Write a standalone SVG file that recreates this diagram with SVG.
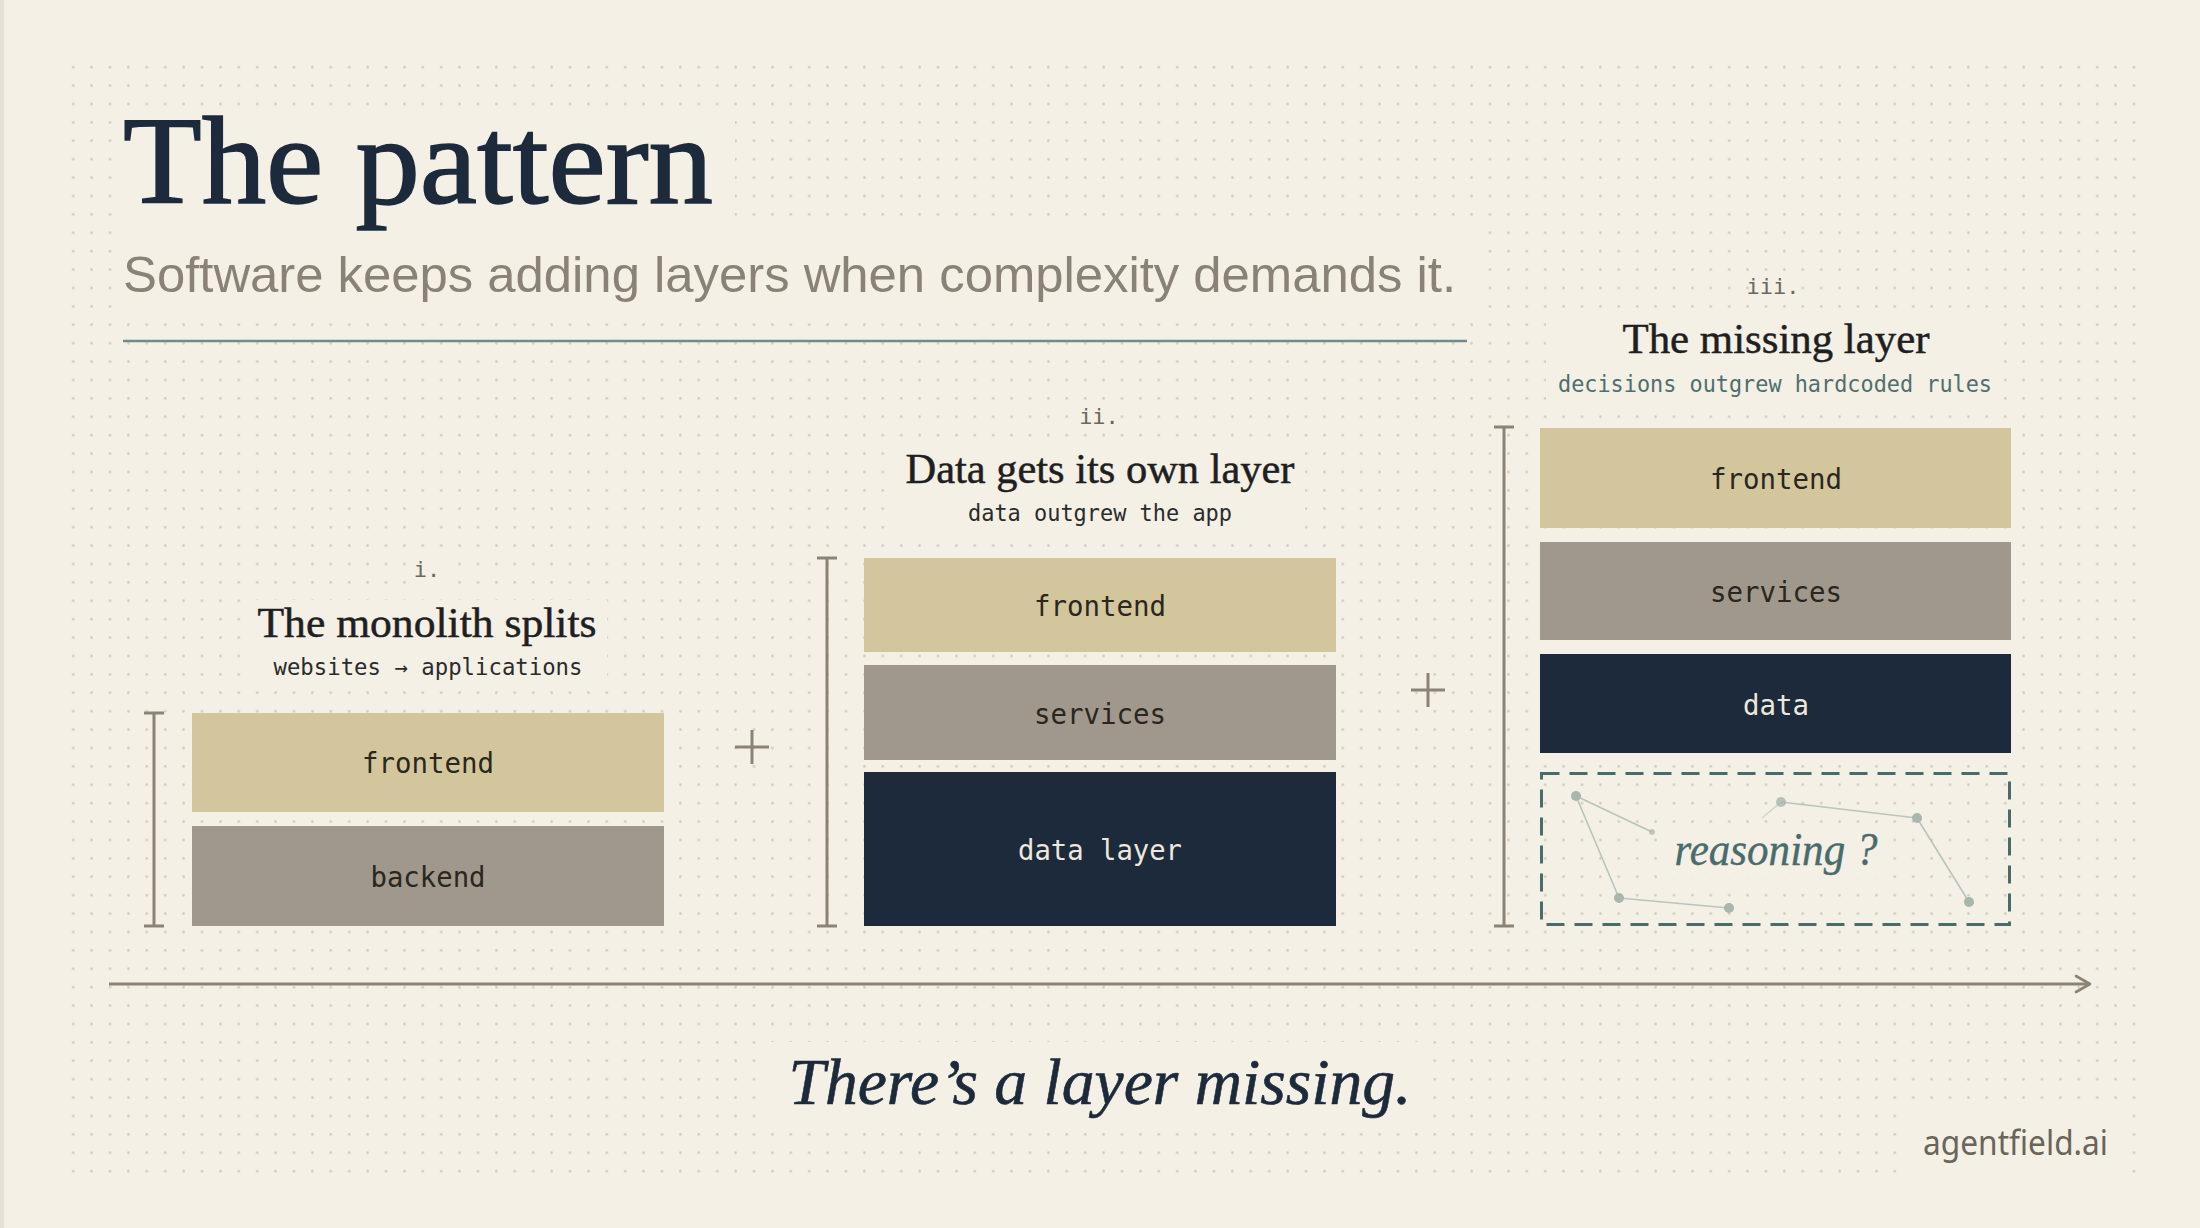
<svg xmlns="http://www.w3.org/2000/svg" width="2200" height="1228" viewBox="0 0 2200 1228">
  <defs>
    <pattern id="dots" x="64" y="58" width="18.4" height="18.4" patternUnits="userSpaceOnUse">
      <circle cx="9.2" cy="9.2" r="1.35" fill="#d3ccbe"/>
    </pattern>
    <marker id="chev" viewBox="0 0 20 20" refX="17" refY="10" markerWidth="20" markerHeight="20" markerUnits="userSpaceOnUse" orient="auto">
      <path d="M3,2 L17,10 L3,18" fill="none" stroke="#8c8376" stroke-width="2.6" stroke-linecap="round" stroke-linejoin="round"/>
    </marker>
    <style>
      .bg { fill: #f4f0e6; }
      .mask { fill: #f4f0e6; }
      .serif { font-family: "Liberation Serif", "DejaVu Serif", serif; }
      .mono { font-family: "DejaVu Sans Mono", "Liberation Mono", monospace; }
      .sans { font-family: "Liberation Sans", "Noto Sans", sans-serif; }
      .num { font-size: 22px; fill: #6e675e; text-anchor: middle; }
      .stitle { font-size: 42px; fill: #1f1f22; text-anchor: middle; stroke: #1f1f22; stroke-width: 0.5; }
      .slabel { font-size: 23px; fill: #2b2b2b; text-anchor: middle; }
      .fe { fill: #d3c69c; }
      .sv { fill: #a0988c; }
      .dt { fill: #1d2a3b; }
      .lbl { font-size: 29px; fill: #2a2620; text-anchor: middle; }
      .lbl-light { font-size: 29px; fill: #ece8de; text-anchor: middle; }
      .brk { fill: none; stroke: #8c8376; stroke-width: 3; stroke-linecap: butt; }
      .plus { fill: none; stroke: #8c8376; stroke-width: 3; }
      .cdot { fill: #a8b6ae; }
      .cline { stroke: #b9c4bd; stroke-width: 1.6; fill: none; }
    </style>
  </defs>

  <!-- background -->
  <rect class="bg" x="0" y="0" width="2200" height="1228"/>
  <rect x="0" y="0" width="4" height="1228" fill="#e6e1d6"/>
  <rect x="64" y="58" width="2072" height="1123" fill="url(#dots)"/>

  <!-- masks behind text -->
  <rect class="mask" x="118" y="110" width="617" height="118"/>
  <rect class="mask" x="118" y="228" width="1355" height="84"/>
  <rect class="mask" x="410" y="558" width="34" height="26"/>
  <rect class="mask" x="248" y="600" width="359" height="84"/>
  <rect class="mask" x="1083" y="405" width="34" height="25"/>
  <rect class="mask" x="895" y="446" width="410" height="84"/>
  <rect class="mask" x="1752" y="275" width="43" height="25"/>
  <rect class="mask" x="1546" y="316" width="458" height="84"/>
  <rect class="mask" x="1668" y="828" width="218" height="50"/>
  <rect class="mask" x="770" y="1042" width="655" height="84"/>
  <rect class="mask" x="1905" y="1105" width="217" height="73"/>

  <!-- header -->
  <g id="header">
    <text class="serif" x="123" y="203" font-size="124" fill="#1c2a3c" stroke="#1c2a3c" stroke-width="1.6" textLength="590" lengthAdjust="spacingAndGlyphs">The pattern</text>
    <text class="sans" x="123" y="292" font-size="50" fill="#8a8276" textLength="1333" lengthAdjust="spacingAndGlyphs">Software keeps adding layers when complexity demands it.</text>
    <line x1="123" y1="341" x2="1467" y2="341" stroke="#6f8b8b" stroke-width="2.5"/>
  </g>

  <!-- column i -->
  <g id="col-i">
    <text class="mono num" x="427" y="577">i.</text>
    <text class="serif stitle" x="427" y="637" textLength="339" lengthAdjust="spacingAndGlyphs">The monolith splits</text>
    <text class="mono slabel" x="428" y="675" textLength="309" lengthAdjust="spacingAndGlyphs">websites → applications</text>
    <path class="brk" d="M144,713 H164 M154,713 V926 M144,926 H164"/>
  </g>
  <g id="i-frontend">
    <rect class="fe" x="192" y="713" width="472" height="99"/>
    <text class="mono lbl" x="428" y="773" textLength="132" lengthAdjust="spacingAndGlyphs">frontend</text>
  </g>
  <g id="i-backend">
    <rect class="sv" x="192" y="826" width="472" height="100"/>
    <text class="mono lbl" x="428" y="887" textLength="115" lengthAdjust="spacingAndGlyphs">backend</text>
  </g>

  <!-- column ii -->
  <g id="col-ii">
    <text class="mono num" x="1099" y="424">ii.</text>
    <text class="serif stitle" x="1100" y="483" textLength="389" lengthAdjust="spacingAndGlyphs">Data gets its own layer</text>
    <text class="mono slabel" x="1100" y="521" textLength="264" lengthAdjust="spacingAndGlyphs">data outgrew the app</text>
    <path class="brk" d="M817,558 H837 M827,558 V926 M817,926 H837"/>
  </g>
  <g id="ii-frontend">
    <rect class="fe" x="864" y="558" width="472" height="94"/>
    <text class="mono lbl" x="1100" y="616" textLength="132" lengthAdjust="spacingAndGlyphs">frontend</text>
  </g>
  <g id="ii-services">
    <rect class="sv" x="864" y="665" width="472" height="95"/>
    <text class="mono lbl" x="1100" y="724" textLength="132" lengthAdjust="spacingAndGlyphs">services</text>
  </g>
  <g id="ii-data">
    <rect class="dt" x="864" y="772" width="472" height="154"/>
    <text class="mono lbl-light" x="1100" y="860" textLength="164" lengthAdjust="spacingAndGlyphs">data layer</text>
  </g>

  <!-- column iii -->
  <g id="col-iii">
    <text class="mono num" x="1773" y="294">iii.</text>
    <text class="serif stitle" x="1776" y="353" textLength="307" lengthAdjust="spacingAndGlyphs">The missing layer</text>
    <text class="mono slabel" x="1775" y="392" style="fill:#4f6e6e" textLength="434" lengthAdjust="spacingAndGlyphs">decisions outgrew hardcoded rules</text>
    <path class="brk" d="M1494,427 H1514 M1504,427 V926 M1494,926 H1514"/>
  </g>
  <g id="iii-frontend">
    <rect class="fe" x="1540" y="428" width="471" height="100"/>
    <text class="mono lbl" x="1776" y="489" textLength="132" lengthAdjust="spacingAndGlyphs">frontend</text>
  </g>
  <g id="iii-services">
    <rect class="sv" x="1540" y="542" width="471" height="98"/>
    <text class="mono lbl" x="1776" y="602" textLength="132" lengthAdjust="spacingAndGlyphs">services</text>
  </g>
  <g id="iii-data">
    <rect class="dt" x="1540" y="654" width="471" height="99"/>
    <text class="mono lbl-light" x="1776" y="715" textLength="66" lengthAdjust="spacingAndGlyphs">data</text>
  </g>
  <g id="iii-reasoning">
    <rect x="1541.5" y="773.5" width="468" height="151" fill="none" stroke="#4a6b6b" stroke-width="3" stroke-dasharray="18 10"/>
    <g>
      <line class="cline" x1="1576" y1="796" x2="1652" y2="832"/>
      <line class="cline" x1="1576" y1="796" x2="1619" y2="898"/>
      <line class="cline" x1="1619" y1="898" x2="1729" y2="908"/>
      <line class="cline" x1="1781" y1="802" x2="1917" y2="818"/>
      <line class="cline" x1="1917" y1="818" x2="1969" y2="902"/>
      <line class="cline" x1="1781" y1="802" x2="1762" y2="818" opacity="0.6"/>
      <circle class="cdot" cx="1576" cy="796" r="5"/>
      <circle class="cdot" cx="1652" cy="832" r="3" opacity="0.7"/>
      <circle class="cdot" cx="1619" cy="898" r="5"/>
      <circle class="cdot" cx="1729" cy="908" r="5"/>
      <circle class="cdot" cx="1781" cy="802" r="5" opacity="0.8"/>
      <circle class="cdot" cx="1917" cy="818" r="5"/>
      <circle class="cdot" cx="1969" cy="902" r="5"/>
    </g>
    <text class="serif" x="1776" y="865" font-size="47" font-style="italic" fill="#4a6b6b" stroke="#4a6b6b" stroke-width="0.4" text-anchor="middle" textLength="203" lengthAdjust="spacingAndGlyphs">reasoning ?</text>
  </g>

  <!-- connectors -->
  <g id="connectors">
    <path class="plus" d="M735,747 H769 M752,730 V764"/>
    <path class="plus" d="M1411,690 H1445 M1428,673 V707"/>
    <line x1="109" y1="984" x2="2090" y2="984" stroke="#8c8376" stroke-width="3" marker-end="url(#chev)"/>
  </g>

  <!-- footer -->
  <g id="footer">
    <text class="serif" x="1100" y="1104" font-size="65" font-style="italic" fill="#1c2a3c" stroke="#1c2a3c" stroke-width="0.6" text-anchor="middle" textLength="623" lengthAdjust="spacingAndGlyphs">There’s a layer missing.</text>
    <text x="2108" y="1155" font-family="'Noto Sans', 'Liberation Sans', sans-serif" font-size="34" fill="#6b6459" text-anchor="end" textLength="185" lengthAdjust="spacingAndGlyphs">agentfield.ai</text>
  </g>
</svg>
